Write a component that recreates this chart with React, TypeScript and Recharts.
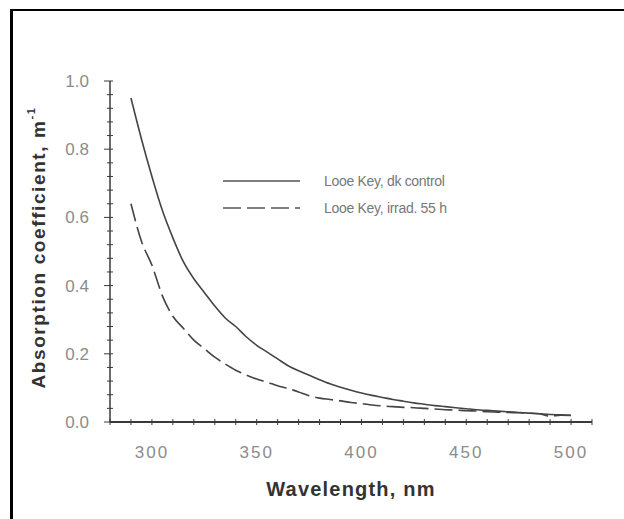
import { LineChart, Line, XAxis, YAxis, Legend } from "recharts";

// wavelength (nm)
const wavelengths = [
  290, 295, 300, 305, 310, 315, 320, 325, 330, 335, 340, 345, 350, 355, 360, 365, 370, 375, 380, 385, 390, 395,
  400, 405, 410, 415, 420, 425, 430, 435, 440, 445, 450, 455, 460, 465, 470, 475, 480, 485, 490, 495, 500,
];

// Looe Key, dk control
const dkControl = [
  0.95, 0.83, 0.72, 0.62, 0.54, 0.47, 0.42, 0.38, 0.34, 0.305, 0.28, 0.25, 0.225, 0.205, 0.185, 0.165, 0.15, 0.137,
  0.124, 0.112, 0.102, 0.093, 0.085, 0.078, 0.072, 0.066, 0.061, 0.056, 0.052, 0.048, 0.045, 0.042, 0.039, 0.036,
  0.034, 0.032, 0.03, 0.028, 0.026, 0.024, 0.022, 0.021, 0.02,
];

// Looe Key, irrad. 55 h
const irrad55h = [
  0.64, 0.53, 0.46, 0.37, 0.31, 0.275, 0.24, 0.215, 0.19, 0.17, 0.152, 0.138, 0.126, 0.117, 0.106, 0.098, 0.088,
  0.077, 0.07, 0.066, 0.062, 0.057, 0.054, 0.05, 0.047, 0.045, 0.043, 0.042, 0.04, 0.038, 0.036, 0.035, 0.033,
  0.032, 0.03, 0.029, 0.028, 0.027, 0.026, 0.024, 0.017, 0.02, 0.019,
];

const xTicks = [280, 290, 300, 310, 320, 330, 340, 350, 360, 370, 380, 390, 400, 410, 420, 430, 440, 450, 460, 470, 480, 490, 500, 510];
const xMajor = [300, 350, 400, 450, 500];
const yTicks = [
  0, 0.04, 0.08, 0.12, 0.16, 0.2, 0.24, 0.28, 0.32, 0.36, 0.4, 0.44, 0.48, 0.52, 0.56, 0.6, 0.64, 0.68, 0.72, 0.76, 0.8,
  0.84, 0.88, 0.92, 0.96, 1.0,
];
const yMajor = [0, 0.2, 0.4, 0.6, 0.8, 1.0];

const seriesNames = ["Looe Key, dk control", "Looe Key, irrad. 55 h"];
const seriesDash = ["0", "18 6"];

const data = wavelengths.map((w, i) => ({ w, dk: dkControl[i], irrad: irrad55h[i] }));

const FONT = "'Liberation Sans', Arial, sans-serif";
const AXIS = "#3a3a3a";
const FRAME = "#8a8a8a";
const TICK_TEXT = "#8c8c8c";

const isMajor = (list: number[], v: number) => list.some((m) => Math.abs(m - v) < 1e-6);

function XTick(props: any) {
  const { x, y, payload } = props;
  const major = isMajor(xMajor, payload.value);
  return (
    <g>
      <line x1={x} x2={x} y1={y - 3} y2={y + 3} stroke={AXIS} strokeWidth={1} />
      {major && (
        <text x={x} y={y + 36} textAnchor="middle" fontSize={17} letterSpacing={2} fill={TICK_TEXT} fontFamily={FONT}>
          {payload.value}
        </text>
      )}
    </g>
  );
}

function YTick(props: any) {
  const { x, y, payload } = props;
  const major = isMajor(yMajor, payload.value);
  return (
    <g>
      <line x1={major ? x - 6 : x - 3} x2={x + 3} y1={y} y2={y} stroke={AXIS} strokeWidth={1} />
      {major && (
        <text x={x - 21} y={y + 6} textAnchor="end" fontSize={17} fill={TICK_TEXT} fontFamily={FONT}>
          {payload.value.toFixed(1)}
        </text>
      )}
    </g>
  );
}

function LegendBox(props: any) {
  const items = props.payload || [];
  return (
    <div style={{ fontFamily: FONT, fontSize: 14, letterSpacing: -0.3, color: "#777" }}>
      {items.map((entry: any, i: number) => (
        <div key={i} style={{ display: "flex", alignItems: "center", height: 27 }}>
          <svg width={80} height={6} style={{ marginRight: 22 }}>
            <line x1={1} x2={78} y1={3} y2={3} stroke="#555" strokeWidth={1.6} strokeDasharray={seriesDash[i]} />
          </svg>
          <span>{entry.value}</span>
        </div>
      ))}
    </div>
  );
}

export default function App() {
  return (
    <div style={{ position: "absolute", left: 0, top: 0, width: 624, height: 519, background: "#fff", overflow: "hidden" }}>
      <div
        style={{
          position: "absolute",
          left: 10,
          top: 9,
          width: 700,
          height: 600,
          borderLeft: "3px solid #000",
          borderTop: "2px solid #000",
        }}
      />
      <div style={{ position: "absolute", left: 0, top: 0 }}>
        <LineChart width={624} height={519} data={data} margin={{ top: 81, right: 32, bottom: 37, left: 0 }}>
          <XAxis
            dataKey="w"
            type="number"
            domain={[280, 510]}
            ticks={xTicks}
            interval={0}
            height={60}
            tickSize={0}
            tickMargin={0}
            tick={<XTick />}
            axisLine={{ stroke: AXIS, strokeWidth: 2 }}
            label={{
              content: ({ viewBox }: any) => (
                <text
                  x={viewBox.x + viewBox.width / 2}
                  y={viewBox.y + 74}
                  textAnchor="middle"
                  fontSize={20}
                  letterSpacing={1.2}
                  fontWeight="bold"
                  fill="#333"
                  fontFamily={FONT}
                >
                  Wavelength, nm
                </text>
              ),
            }}
          />
          <XAxis xAxisId="top" orientation="top" dataKey="w" type="number" domain={[280, 510]} height={0} tick={false} tickLine={false} axisLine={{ stroke: FRAME, strokeWidth: 2 }} />
          <YAxis
            type="number"
            domain={[0, 1]}
            ticks={yTicks}
            interval={0}
            width={110}
            tickSize={0}
            tickMargin={0}
            tick={<YTick />}
            axisLine={{ stroke: AXIS, strokeWidth: 1.5 }}
            label={{
              content: ({ viewBox }: any) => {
                const cx = 40;
                const cy = viewBox.y + viewBox.height / 2 - 4;
                return (
                  <text
                    x={cx}
                    y={cy}
                    transform={`rotate(-90 ${cx} ${cy})`}
                    textAnchor="middle"
                    dominantBaseline="middle"
                    fontSize={19}
                    letterSpacing={1.6}
                    fontWeight="bold"
                    fill="#333"
                    fontFamily={FONT}
                  >
                    Absorption coefficient, m
                    <tspan dy={-8} fontSize={11}>
                      -1
                    </tspan>
                  </text>
                );
              },
            }}
          />
          <YAxis yAxisId="right" orientation="right" domain={[0, 1]} width={0} tick={false} tickLine={false} axisLine={{ stroke: FRAME, strokeWidth: 2 }} />
          <Legend
            layout="vertical"
            verticalAlign="top"
            content={<LegendBox />}
            wrapperStyle={{ left: 222, top: 167, width: 280, height: 0, overflow: "visible" }}
          />
          <Line
            type="monotone"
            dataKey="dk"
            name={seriesNames[0]}
            stroke="#444"
            strokeWidth={1.6}
            dot={false}
            isAnimationActive={false}
          />
          <Line
            type="monotone"
            dataKey="irrad"
            name={seriesNames[1]}
            stroke="#444"
            strokeWidth={1.6}
            strokeDasharray={seriesDash[1]}
            dot={false}
            isAnimationActive={false}
          />
        </LineChart>
      </div>
    </div>
  );
}
